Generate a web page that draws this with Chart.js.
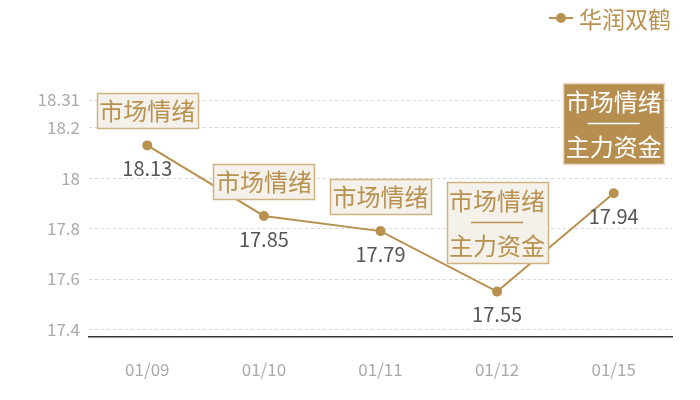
<!DOCTYPE html>
<html><head><meta charset="utf-8">
<script src="https://cdn.jsdelivr.net/npm/chart.js@4/dist/chart.umd.min.js"></script>
<style>html,body{margin:0;padding:0;background:#fff}#wrap{width:700px;height:400px}</style>
</head><body><div id="wrap"><canvas id="c" width="700" height="400"></canvas></div>
<script>
const categories = ['01/09','01/10','01/11','01/12','01/15'];
const values = [18.13, 17.85, 17.79, 17.55, 17.94];
const seriesName = '华润双鹤';
const yTicks = [17.4, 17.6, 17.8, 18, 18.2, 18.31];
const tags = [['市场情绪'], ['市场情绪'], ['市场情绪'], ['市场情绪','主力资金'], ['市场情绪','主力资金']];
const highlighted = [false, false, false, false, true];

const GOLD = '#b8914f';
const FONT = '"Noto Sans CJK SC", "Noto Sans", sans-serif';

const overlay = {
  id: 'overlay',
  afterDatasetsDraw(chart) {
    const ctx = chart.ctx;
    const meta = chart.getDatasetMeta(0);
    ctx.save();
    // value labels
    ctx.font = '20px ' + FONT;
    ctx.fillStyle = '#555';
    ctx.textAlign = 'center';
    ctx.textBaseline = 'middle';
    meta.data.forEach((pt, i) => {
      ctx.fillText(String(values[i]), pt.x, pt.y + 23);
    });
    // tag boxes
    meta.data.forEach((pt, i) => {
      const lines = tags[i];
      const w = 101;
      const h = lines.length === 1 ? 35 : 81;
      const gap = lines.length === 1 ? 17 : 29;
      const x0 = Math.round(pt.x - w / 2) + 0.5;
      const y0 = Math.round(pt.y - gap - h) + 0.5;
      const hl = highlighted[i];
      ctx.fillStyle = hl ? '#b58e50' : '#f4f0ea';
      ctx.fillRect(x0, y0, w, h);
      ctx.strokeStyle = hl ? '#e8dcc6' : '#cfb482';
      ctx.lineWidth = 1.5;
      ctx.strokeRect(x0, y0, w, h);
      ctx.fillStyle = hl ? '#ffffff' : GOLD;
      ctx.font = '24px ' + FONT;
      if (lines.length === 1) {
        ctx.fillText(lines[0], pt.x, y0 + h / 2);
      } else {
        ctx.fillText(lines[0], pt.x, y0 + 18);
        ctx.fillText(lines[1], pt.x, y0 + 63);
        ctx.strokeStyle = hl ? '#ffffff' : GOLD;
        ctx.lineWidth = 1.5;
        ctx.beginPath();
        ctx.moveTo(pt.x - 26, y0 + 40);
        ctx.lineTo(pt.x + 26, y0 + 40);
        ctx.stroke();
      }
    });
    // legend
    ctx.strokeStyle = GOLD;
    ctx.lineWidth = 2;
    ctx.beginPath();
    ctx.moveTo(549, 18);
    ctx.lineTo(573, 18);
    ctx.stroke();
    ctx.fillStyle = GOLD;
    ctx.beginPath();
    ctx.arc(561, 18, 5, 0, Math.PI * 2);
    ctx.fill();
    ctx.font = '23px ' + FONT;
    ctx.textAlign = 'left';
    ctx.fillText(seriesName, 579, 19);
    ctx.restore();
  }
};

new Chart(document.getElementById('c'), {
  type: 'line',
  data: {
    labels: categories,
    datasets: [{
      label: seriesName,
      data: values,
      borderColor: GOLD,
      backgroundColor: GOLD,
      borderWidth: 2,
      pointRadius: 4,
      pointHoverRadius: 4,
      tension: 0
    }]
  },
  options: {
    responsive: false,
    animation: false,
    events: [],
    layout: { padding: { left: 0, right: 28, top: 100, bottom: 0 } },
    plugins: { legend: { display: false }, tooltip: { enabled: false } },
    scales: {
      x: {
        offset: true,
        grid: { display: false, drawTicks: false },
        border: { display: true, color: '#333', width: 1.5 },
        ticks: { color: '#aaa', font: { size: 17, family: FONT }, padding: 22 },
        afterFit(s) { s.height = 63; }
      },
      y: {
        min: 17.37,
        max: 18.31,
        afterBuildTicks(s) { s.ticks = yTicks.map(v => ({ value: v })); },
        grid: { color: '#d6d6d6', drawTicks: false },
        border: { display: false, dash: [3, 3] },
        ticks: { color: '#aaa', font: { size: 17, family: FONT }, padding: 9, callback: v => String(v) },
        afterFit(s) { s.width = 89; }
      }
    }
  },
  plugins: [overlay]
});
</script></body></html>
